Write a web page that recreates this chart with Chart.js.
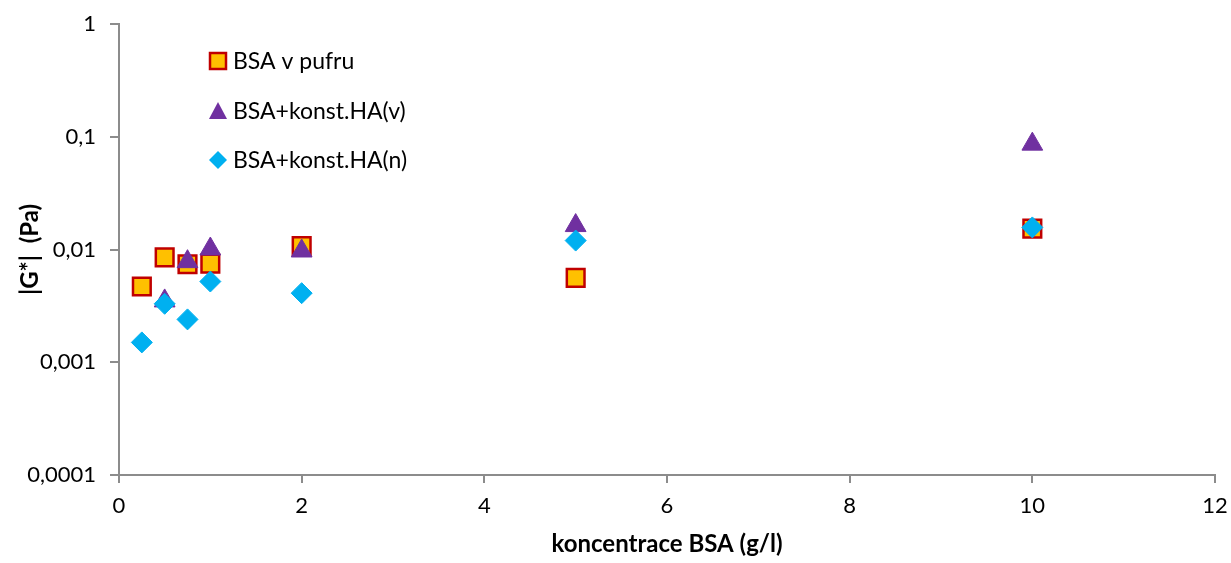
<!DOCTYPE html>
<html>
<head>
<meta charset="utf-8">
<script src="https://cdn.jsdelivr.net/npm/chart.js@4.4.1/dist/chart.umd.min.js"></script>
<style>
body { margin: 0; background: #fff; }
</style>
</head>
<body>
<canvas id="myChart" width="1231" height="563"></canvas>
<script>
// data
var seriesNames = ['BSA v pufru', 'BSA+konst.HA(v)', 'BSA+konst.HA(n)'];
var xPufru = [0.25, 0.5, 0.75, 1, 2, 5, 10];
var yPufru = [0.0047, 0.0085, 0.0074, 0.0075, 0.0107, 0.0056, 0.0153];
var xHaV = [0.5, 0.75, 1, 2, 5, 10];
var yHaV = [0.0035, 0.0078, 0.0101, 0.0097, 0.0163, 0.086];
var xHaN = [0.25, 0.5, 0.75, 1, 2, 5, 10];
var yHaN = [0.0015, 0.0033, 0.0024, 0.0052, 0.0041, 0.012, 0.0157];
var yTicks = [0.0001, 0.001, 0.01, 0.1, 1];

var FONT = 'Lato, "Open Sans", sans-serif';
var AXIS = '#8c8c8c';

function pts(xs, ys) {
	return xs.map((x, i) => ({ x: x, y: ys[i] }));
}

// legend drawn inside the plot, top-left
var insideLegend = {
	id: 'insideLegend',
	afterDraw(chart) {
		var ctx = chart.ctx;
		var items = [
			{ y: 61, draw: (x, y) => { ctx.fillStyle = '#FFC000'; ctx.strokeStyle = '#C00000'; ctx.lineWidth = 2.5; ctx.fillRect(x - 8, y - 8, 16, 16); ctx.strokeRect(x - 8, y - 8, 16, 16); } },
			{ y: 111, draw: (x, y) => { ctx.fillStyle = '#7030A0'; ctx.beginPath(); ctx.moveTo(x, y - 9); ctx.lineTo(x + 9, y + 8); ctx.lineTo(x - 9, y + 8); ctx.closePath(); ctx.fill(); } },
			{ y: 160, draw: (x, y) => { ctx.fillStyle = '#00B0F0'; ctx.beginPath(); ctx.moveTo(x, y - 9); ctx.lineTo(x + 9, y); ctx.lineTo(x, y + 9); ctx.lineTo(x - 9, y); ctx.closePath(); ctx.fill(); } }
		];
		ctx.save();
		items.forEach((it, i) => {
			it.draw(218, it.y);
			ctx.fillStyle = '#000';
			ctx.font = '23px ' + FONT;
			ctx.textBaseline = 'middle';
			ctx.textAlign = 'left';
			ctx.fillText(seriesNames[i], 233, it.y + 1);
		});
		ctx.restore();
	}
};

var ctx = document.getElementById('myChart');
var myChart = new Chart(ctx, {
	type: 'scatter',
	data: {
		datasets: [{
			label: seriesNames[0],
			data: pts(xPufru, yPufru),
			pointStyle: 'rect',
			pointRadius: 12.5,
			backgroundColor: '#FFC000',
			borderColor: '#C00000',
			borderWidth: 2.5,
			order: 3
		}, {
			label: seriesNames[1],
			data: pts(xHaV, yHaV),
			pointStyle: 'triangle',
			pointRadius: 12,
			backgroundColor: '#7030A0',
			borderColor: '#7030A0',
			borderWidth: 1,
			order: 2
		}, {
			label: seriesNames[2],
			data: pts(xHaN, yHaN),
			pointStyle: 'rectRot',
			pointRadius: 10.5,
			backgroundColor: '#00B0F0',
			borderColor: '#00B0F0',
			borderWidth: 1,
			order: 1
		}]
	},
	options: {
		responsive: false,
		maintainAspectRatio: false,
		animation: false,
		layout: { padding: { top: 24, right: 16, left: 0, bottom: 0 } },
		plugins: {
			legend: { display: false },
			tooltip: { enabled: false }
		},
		scales: {
			x: {
				type: 'linear',
				min: 0,
				max: 12,
				ticks: { stepSize: 2, color: '#000', font: { family: FONT, size: 22 }, padding: 10 },
				grid: { drawOnChartArea: false, drawTicks: true, tickLength: 8, color: AXIS, lineWidth: 2 },
				border: { color: AXIS, width: 2 },
				title: { display: true, text: 'koncentrace BSA (g/l)', color: '#000', font: { family: FONT, size: 24, weight: 'bold' }, padding: { top: 12 } },
				afterFit: (axis) => { axis.height = 88; axis.paddingLeft = 0; axis.paddingRight = 0; }
			},
			y: {
				type: 'logarithmic',
				min: 0.0001,
				max: 1,
				afterBuildTicks: (axis) => { axis.ticks = yTicks.map(v => ({ value: v })); },
				ticks: {
					color: '#000',
					font: { family: FONT, size: 22 },
					padding: 14,
					callback: (v) => String(v).replace('.', ',')
				},
				grid: { drawOnChartArea: false, drawTicks: true, tickLength: 9, color: AXIS, lineWidth: 2 },
				border: { color: AXIS, width: 2 },
				title: { display: true, text: '|G*|  (Pa)', color: '#000', font: { family: FONT, size: 24, weight: 'bold' }, padding: { top: 16, bottom: 0 } },
				afterFit: (axis) => { axis.width = 119; axis.paddingTop = 0; axis.paddingBottom = 0; }
			}
		}
	},
	plugins: [insideLegend]
});
</script>
</body>
</html>
